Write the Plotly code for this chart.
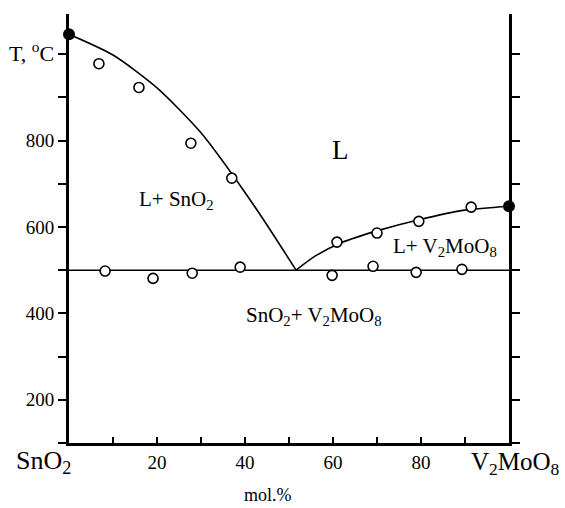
import plotly.graph_objects as go

# --- data ---
liq_left_x = [6.8, 15.9, 27.7, 37.0]
liq_left_y = [978, 923, 794, 713]
sol_x = [8.2, 19.1, 28.0, 38.9, 59.8, 69.1, 78.9, 89.3]
sol_y = [498, 481, 493, 507, 488, 509, 495, 502]
liq_right_x = [60.9, 70.0, 79.5, 91.4]
liq_right_y = [565, 586, 613, 646]
melt_x = [0, 100]
melt_y = [1046, 648]

left_curve_x = [0, 10, 20, 30, 40, 46, 51.6]
left_curve_y = [1046, 998, 922, 818, 680, 589, 500]
right_curve_x = [51.6, 56, 62, 70, 80, 90, 100]
right_curve_y = [500, 533, 564, 591, 618, 639, 648]
solidus_x = [0, 100]
solidus_y = [500, 500]

x_tickvals = [20, 40, 60, 80]
x_ticktext = ["20", "40", "60", "80"]
y_tickvals = [200, 400, 600, 800, 1000]
y_ticktext = ["200", "400", "600", "800",
              "<span style='font-size:22px'>T, <sup>o</sup>C</span>"]

FONT = "Liberation Serif, Times New Roman, serif"

fig = go.Figure()
line_style = dict(color="black", width=1.6)
fig.add_trace(go.Scatter(x=left_curve_x, y=left_curve_y, mode="lines",
                         line=dict(shape="spline", smoothing=0.7, **line_style),
                         hoverinfo="skip", showlegend=False))
fig.add_trace(go.Scatter(x=right_curve_x, y=right_curve_y, mode="lines",
                         line=dict(shape="spline", smoothing=0.7, **line_style),
                         hoverinfo="skip", showlegend=False))
fig.add_trace(go.Scatter(x=solidus_x, y=solidus_y, mode="lines",
                         line=line_style, hoverinfo="skip", showlegend=False))
open_marker = dict(symbol="circle", size=10, color="white",
                   line=dict(color="black", width=1.6))
for xs, ys in [(liq_left_x, liq_left_y), (sol_x, sol_y), (liq_right_x, liq_right_y)]:
    fig.add_trace(go.Scatter(x=xs, y=ys, mode="markers", marker=open_marker,
                             showlegend=False, cliponaxis=False))
fig.add_trace(go.Scatter(x=melt_x, y=melt_y, mode="markers",
                         marker=dict(symbol="circle", size=12, color="black"),
                         showlegend=False, cliponaxis=False))

fig.update_layout(
    width=565, height=508,
    margin=dict(l=69, r=56, t=14, b=65),
    plot_bgcolor="white", paper_bgcolor="white",
    font=dict(family=FONT, color="black", size=19),
    xaxis=dict(range=[0, 100], showgrid=False, zeroline=False, automargin=False,
               showline=True, linewidth=3, linecolor="black",
               tickvals=x_tickvals, ticktext=x_ticktext,
               ticks="inside", ticklen=6, tickwidth=1.5, tickcolor="black",
               minor=dict(dtick=10, tick0=0, ticks="inside", ticklen=6,
                          tickwidth=1.5, tickcolor="black"),
               tickfont=dict(family=FONT, size=19)),
    yaxis=dict(range=[100, 1093], showgrid=False, zeroline=False, automargin=False,
               showline=True, linewidth=3, linecolor="black", mirror="ticks",
               tickvals=y_tickvals, ticktext=y_ticktext,
               ticks="outside", ticklen=8, tickwidth=1.5, tickcolor="black",
               minor=dict(dtick=100, tick0=0, ticks="outside", ticklen=8,
                          tickwidth=1.5, tickcolor="black"),
               tickfont=dict(family=FONT, size=19)),
)

ann_data = [
    dict(x=61.6, y=778, text="L", size=27),
    dict(x=24.5, y=662, text="L+ SnO<sub>2</sub>", size=21),
    dict(x=85.5, y=554, text="L+ V<sub>2</sub>MoO<sub>8</sub>", size=21),
    dict(x=55.7, y=394, text="SnO<sub>2</sub>+ V<sub>2</sub>MoO<sub>8</sub>", size=21),
]
for a in ann_data:
    fig.add_annotation(x=a["x"], y=a["y"], xref="x", yref="y", text=a["text"],
                       showarrow=False, xanchor="center", yanchor="middle",
                       font=dict(family=FONT, size=a["size"], color="black"))

ann_paper = [
    dict(x=-0.059, y=-0.045, text="SnO<sub>2</sub>", size=26),
    dict(x=1.014, y=-0.047, text="V<sub>2</sub>MoO<sub>8</sub>", size=25),
    dict(x=0.452, y=-0.121, text="mol.%", size=18),
]
for a in ann_paper:
    fig.add_annotation(x=a["x"], y=a["y"], xref="paper", yref="paper", text=a["text"],
                       showarrow=False, xanchor="center", yanchor="middle",
                       font=dict(family=FONT, size=a["size"], color="black"))

fig.write_html("out.html", config={"displayModeBar": False},
               post_script="document.body.style.margin='0';document.body.style.overflow='hidden';")
